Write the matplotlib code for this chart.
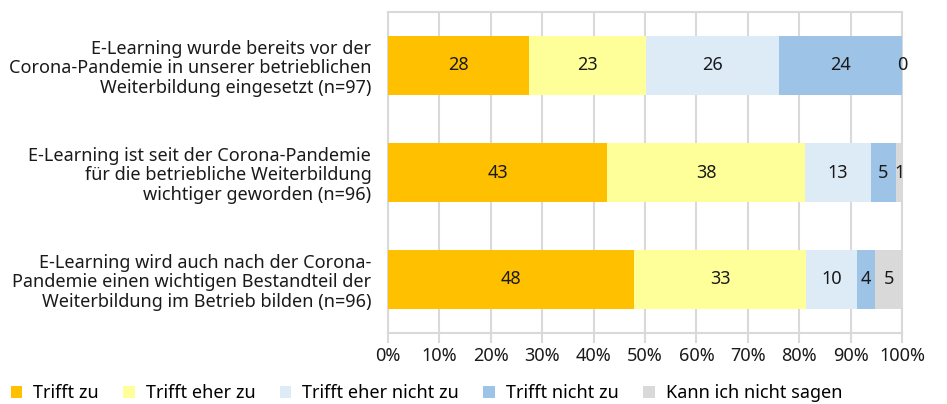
import matplotlib
matplotlib.use("Agg")
import matplotlib.pyplot as plt
import numpy as np
from matplotlib.patches import Patch

plt.rcParams["font.family"] = ["Noto Sans", "DejaVu Sans"]

# statements (top to bottom)
statements = [
    "E-Learning wurde bereits vor der\nCorona-Pandemie in unserer betrieblichen\nWeiterbildung eingesetzt (n=97)",
    "E-Learning ist seit der Corona-Pandemie\nfür die betriebliche Weiterbildung\nwichtiger geworden (n=96)",
    "E-Learning wird auch nach der Corona-\nPandemie einen wichtigen Bestandteil der\nWeiterbildung im Betrieb bilden (n=96)",
]
answers = ["Trifft zu", "Trifft eher zu", "Trifft eher nicht zu",
           "Trifft nicht zu", "Kann ich nicht sagen"]
colors = ["#FFC000", "#FFFF99", "#DDEBF7", "#9DC3E6", "#D9D9D9"]

# shares in percent per answer, one value per statement
trifft_zu = [27.4, 42.7, 47.9]
eher_zu = [22.8, 38.4, 33.4]
eher_nicht = [25.9, 12.8, 9.9]
nicht_zu = [23.9, 5.0, 3.6]
weiss_nicht = [0.0, 1.1, 5.2]
# printed labels (rounded)
labels_zu = [28, 43, 48]
labels_eher_zu = [23, 38, 33]
labels_eher_nicht = [26, 13, 10]
labels_nicht_zu = [24, 5, 4]
labels_weiss_nicht = [0, 1, 5]

series = [trifft_zu, eher_zu, eher_nicht, nicht_zu, weiss_nicht]
labels = [labels_zu, labels_eher_zu, labels_eher_nicht,
          labels_nicht_zu, labels_weiss_nicht]

FS = 13

fig = plt.figure(figsize=(9.47, 4.04), dpi=100)
ax = fig.add_axes([388 / 947, 1 - 333 / 404, 514 / 947, 321 / 404])

y = np.arange(len(statements))
left = np.zeros(len(statements))
for vals, labs, col in zip(series, labels, colors):
    vals = np.array(vals)
    ax.barh(y, vals, left=left, height=0.56, color=col, zorder=3)
    for yi, (v, lab, l0) in enumerate(zip(vals, labs, left)):
        ax.text(l0 + v / 2, yi, str(lab), ha="center", va="center",
                fontsize=FS, color="#1a1a1a", zorder=4)
    left += vals

ax.set_xlim(0, 100)
ax.set_ylim(len(statements) - 0.5, -0.5)
ax.set_xticks(np.arange(0, 101, 10))
ax.set_xticklabels([f"{t}%" for t in range(0, 101, 10)], fontsize=FS)
ax.set_yticks(y)
ax.set_yticklabels(statements, fontsize=FS, linespacing=1.1)
ax.tick_params(axis="y", length=0, pad=12)
ax.tick_params(axis="x", length=7, width=1.5, color="#D9D9D9", pad=3,
               labelcolor="#1a1a1a")
ax.grid(axis="x", color="#D9D9D9", linewidth=1.5, zorder=0)
for side in ["top", "right", "left", "bottom"]:
    ax.spines[side].set_color("#D9D9D9")
    ax.spines[side].set_linewidth(1.5)
for t in ax.get_yticklabels():
    t.set_color("#1a1a1a")

handles = [Patch(facecolor=c, edgecolor="none") for c in colors]
fig.legend(handles, answers, loc="lower left", bbox_to_anchor=(-0.006, -0.036),
           ncol=5, frameon=False, fontsize=FS, handlelength=0.65,
           handleheight=0.65, handletextpad=0.6, columnspacing=1.35)

fig.savefig("out.png", dpi=100)
